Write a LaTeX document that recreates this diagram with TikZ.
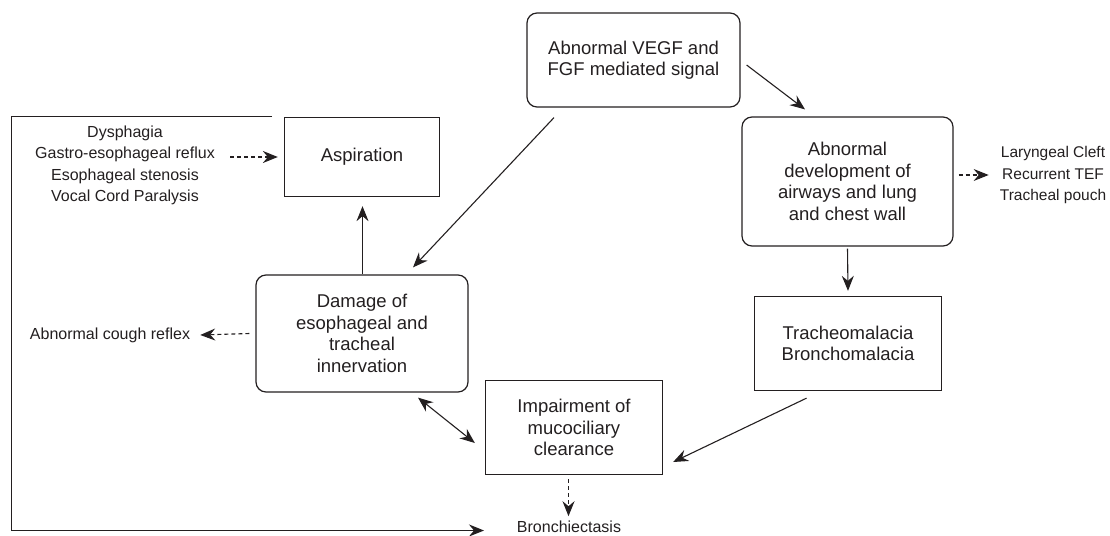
\documentclass[tikz,border=0pt]{standalone}
\usepackage{fontspec}
\setmainfont{Liberation Sans}
\usetikzlibrary{arrows.meta,calc}
\definecolor{ink}{HTML}{231F20}
\tikzset{
  big/.style={font=\fontsize{18.5}{21.5}\selectfont},
  small/.style={font=\fontsize{16}{21.5}\selectfont, inner sep=0pt, align=center, text=ink},
  rbox/.style={draw=ink, line width=1.2pt, rounded corners=10pt, align=center, big, text=ink, inner sep=0pt},
  sbox/.style={draw=ink, line width=1.3pt, align=center, big, text=ink, inner sep=0pt},
  arr/.style={draw=ink, line width=1.1pt, -{Stealth[length=15pt,width=12pt,inset=5pt]}},
  darr/.style={arr, dash pattern=on 4pt off 3pt},
  biarr/.style={draw=ink, line width=1.1pt, {Stealth[length=15pt,width=12pt,inset=5pt]}-{Stealth[length=15pt,width=12pt,inset=5pt]}}
}
\begin{document}
\begin{tikzpicture}[x=1pt,y=-1pt]
\useasboundingbox (0,0) rectangle (1110,535);

\node[rbox, minimum width=213pt, minimum height=94pt] (vegf) at (633.5,60) {Abnormal VEGF and\\FGF mediated signal};
\node[sbox, minimum width=155pt, minimum height=79pt] (asp) at (362,157) {Aspiration};
\node[rbox, minimum width=211pt, minimum height=129pt] (dev) at (847.5,181.5) {Abnormal\\development of\\airways and lung\\and chest wall};
\node[sbox, minimum width=187pt, minimum height=94pt] (trach) at (848,343.5) {Tracheomalacia\\Bronchomalacia};
\node[rbox, minimum width=212pt, minimum height=117pt] (dam) at (362,333.5) {Damage of\\esophageal and\\tracheal\\innervation};
\node[sbox, minimum width=177pt, minimum height=94pt] (imp) at (574,427.5) {Impairment of\\mucociliary\\clearance};

\node[small] (left) at (125,165.5) {Dysphagia\\Gastro-esophageal reflux\\Esophageal stenosis\\Vocal Cord Paralysis};
\node[small, font=\fontsize{15.5}{21.7}\selectfont] (right) at (1053,175) {Laryngeal Cleft\\Recurrent TEF\\Tracheal pouch};
\node[small] (cough) at (110,335) {Abnormal cough reflex};
\node[small, anchor=base] (bron) at (569,532) {Bronchiectasis};

\coordinate (loopstart) at (272,116.5);
\coordinate (loopcorner) at (11.5,530.5);
\coordinate (looptip) at (484,530.5);

\draw[arr] ([xshift=-79.5pt,yshift=-10pt]vegf.south) -- ([xshift=51pt,yshift=7pt]dam.north);
\draw[arr] ([xshift=6pt,yshift=-5pt]vegf.east) -- ([xshift=-42.5pt,yshift=7pt]dev.north);
\draw[arr] ([yshift=-2pt]dev.south) -- ([yshift=5pt]trach.north);
\draw[arr] ([xshift=-41.5pt,yshift=-7pt]trach.south) -- ([xshift=10pt,yshift=-34.5pt]imp.east);
\draw[biarr] ([xshift=56pt,yshift=-5pt]dam.south) -- ([xshift=-10pt,yshift=-15.5pt]imp.west);
\draw[arr] ([xshift=0.5pt]dam.north -| asp.south) -- ([xshift=0.5pt,yshift=-9pt]asp.south);
\draw[darr] ([xshift=-0.5pt,yshift=-4pt]bron.north |- imp.south) -- ([xshift=-0.5pt,yshift=4pt]bron.north);
\draw[darr] ([xshift=15pt]left.east |- asp.west) -- ([xshift=-6pt]asp.west);
\draw[darr] ([xshift=-6pt]dam.west) -- ([xshift=10pt]cough.east);
\draw[darr] ([xshift=5pt]dev.east |- right.west) -- ([xshift=-11pt]right.west);
\draw[arr] (loopstart) -| (loopcorner) -- (looptip);
\end{tikzpicture}
\end{document}
